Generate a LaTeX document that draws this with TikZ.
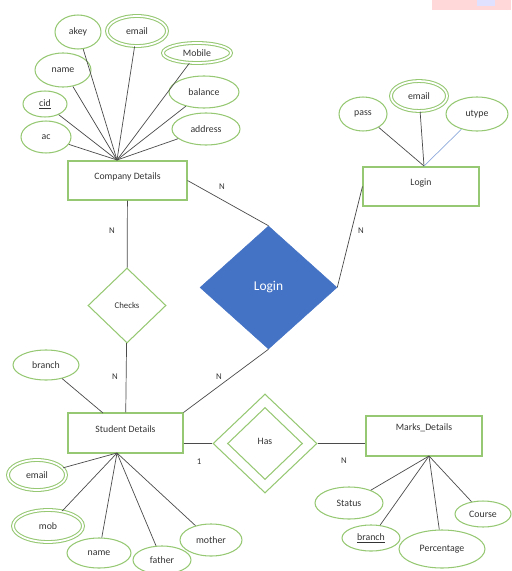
\documentclass[tikz,border=0pt]{standalone}
\usepackage{fontspec}
\setmainfont{Carlito}
\usetikzlibrary{shapes.geometric}
\definecolor{attrgreen}{RGB}{150,200,115}
\definecolor{relblue}{RGB}{68,114,196}
\definecolor{linegray}{RGB}{75,75,75}
\definecolor{utypeblue}{RGB}{143,170,220}
\def\px{0.3mm}
\tikzset{
  attr/.style={ellipse, draw=attrgreen, line width=0.9pt, inner sep=0pt, text=black!80, font=\fontsize{8.4}{9}\selectfont},
  multi/.style={attr, double=white, double distance=1.5pt},
  entity/.style={rectangle, draw=attrgreen, line width=0.9pt, inner sep=0pt, text=black!80, font=\fontsize{8.3}{9}\selectfont},
  rel/.style={diamond, draw=attrgreen, line width=0.9pt, inner sep=0pt, text=black!80, font=\fontsize{7.5}{9}\selectfont},
  link/.style={draw=linegray, line width=0.6pt},
  card/.style={text=black!80, font=\fontsize{7.5}{8}\selectfont}
}
\begin{document}
\begin{tikzpicture}[x=\px, y=-\px]
\useasboundingbox (0,0) rectangle (511,571);
\fill[red!15] (432,0) rectangle (511,10);
\fill[blue!12] (477,0) rectangle (495,6);

% entities
\node[entity, minimum width=119*\px, minimum height=39*\px, text depth=2.5mm] (company) at (127.5,180.5) {Company Details};
\node[entity, minimum width=116*\px, minimum height=39*\px, text depth=2.5mm] (login) at (421,186.5) {Login};
\node[entity, minimum width=115*\px, minimum height=40*\px, text depth=2.3mm] (student) at (125.5,433) {Student Details};
\node[entity, minimum width=116*\px, minimum height=40*\px, text depth=5.2mm] (marks) at (424,436) {Marks\_Details};

% relationships
\node[rel, minimum width=78*\px, minimum height=75*\px] (checks) at (127,305.5) {Checks};
\node[diamond, fill=relblue, draw=relblue, inner sep=0pt, minimum width=137*\px, minimum height=123*\px, text=white, font=\fontsize{11.5}{13}\selectfont] (logs) at (268.5,287.5) {Login};
\node[rel, minimum width=104*\px, minimum height=99*\px, text depth=1.4mm, font=\fontsize{8.3}{9}\selectfont] (has) at (265,443.5) {Has};
\node[rel, minimum width=75*\px, minimum height=72*\px] (hasin) at (265,443.5) {};

% meeting points of the attribute lines
\coordinate (cdt) at (117,160);
\coordinate (ldt) at (424,166);
\coordinate (sdt) at (117,453);
\coordinate (sbt) at (103,413);
\coordinate (mdt) at (429,456);

% attributes
\foreach \n/\s/\x/\y/\a/\b/\t in {
  akey/attr/78/32/23/17/akey,
  cemail/multi/137/31/30/15/email,
  cmobile/multi/197/53/34/10/Mobile,
  cname/attr/63/70/28/17/name,
  cid/attr/45/104/22/13/\underline{cid},
  cac/attr/46/137/25/16/ac,
  cbal/attr/204/92/35/16/balance,
  caddr/attr/206/129/34/16/address,
  pass/attr/363/114/24/17/pass,
  lemail/multi/419/96/28/15/email,
  utype/attr/477/114/31/17/utype,
  sbranch/attr/46/365/33/15/branch,
  semail/multi/37/475/29/15/email,
  smob/multi/48/526/35/16/mob,
  sname/attr/99/553/32/15/name,
  sfather/attr/162/560/29/14/father,
  smother/attr/211/540/31/16/mother,
  status/attr/349/503/34/16/Status,
  mbranch/attr/371/538/29/13/\underline{branch},
  perc/attr/442/549/43/19/Percentage,
  course/attr/483/514/28/13/Course}
{
  \node[\s, minimum width=2*\a*\px, minimum height=2*\b*\px] (\n) at (\x,\y) {\t};
}

\foreach \n in {akey,cemail,cmobile,cname,cid,cac,cbal,caddr}
  \draw[link] (\n) -- (cdt);
\foreach \n in {pass,lemail}
  \draw[link] (\n) -- (ldt);
\draw[draw=utypeblue, line width=0.6pt] (utype) -- (ldt);
\draw[link] (sbranch) -- (sbt);
\foreach \n in {semail,smob,sname,sfather,smother}
  \draw[link] (\n) -- (sdt);
\foreach \n in {status,mbranch,perc,course}
  \draw[link] (\n) -- (mdt);

% relationship lines
\draw[link] (company.east) -- (logs.north);
\draw[link] (logs.east) -- (login.west);
\draw[link] (logs.south) -- (student.north east);
\draw[link] (company) -- (checks);
\draw[link] (checks) -- (student);
\draw[link] (has.west -| student.east) -- (has.west);
\draw[link] (has.east) -- (has.east -| marks.west);

% cardinalities
\node[card] (n1) at (222,187) {N};
\node[card] (n2) at (361,231) {N};
\node[card] (n3) at (112,231) {N};
\node[card] (n4) at (115,377) {N};
\node[card] (n5) at (219,377) {N};
\node[card] (n6) at (199,462) {1};
\node[card] (n7) at (344,461) {N};
\end{tikzpicture}
\end{document}
